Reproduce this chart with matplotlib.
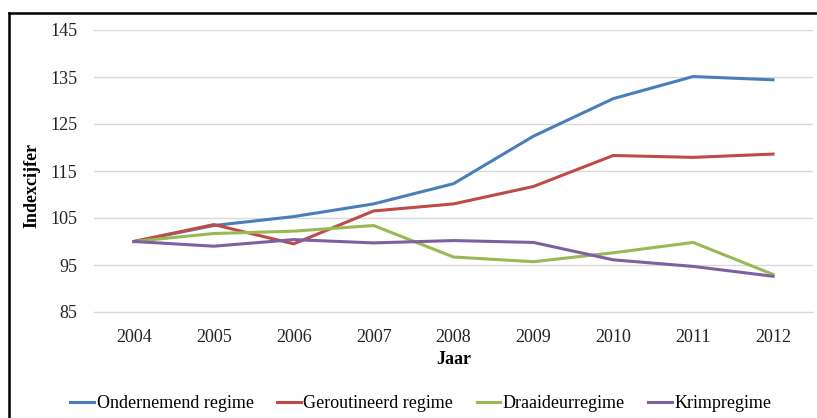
import matplotlib.pyplot as plt
from matplotlib.lines import Line2D

# data
jaren = ['2004', '2005', '2006', '2007', '2008', '2009', '2010', '2011', '2012']
ondernemend = [100, 103.4, 105.3, 108.0, 112.3, 122.4, 130.4, 135.1, 134.4]
geroutineerd = [100, 103.6, 99.5, 106.5, 108.0, 111.7, 118.3, 117.9, 118.6]
draaideur = [100, 101.7, 102.2, 103.4, 96.7, 95.7, 97.6, 99.8, 93.0]
krimp = [100, 99.0, 100.4, 99.7, 100.2, 99.8, 96.1, 94.7, 92.6]

series = [
    ('Ondernemend regime', ondernemend, '#4A7EBB'),
    ('Geroutineerd regime', geroutineerd, '#BE4B48'),
    ('Draaideurregime', draaideur, '#98B954'),
    ('Krimpregime', krimp, '#7D60A0'),
]

plt.rcParams['font.family'] = ['Liberation Serif', 'DejaVu Serif']

W, H = 817, 418
fig = plt.figure(figsize=(W / 100, H / 100), dpi=100)
ax = fig.add_axes([94 / W, 1 - 312 / H, (813 - 94) / W, (312 - 30) / H])

x = range(len(jaren))
for naam, vals, kleur in series:
    ax.plot(x, vals, color=kleur, lw=2.2, label=naam, solid_joinstyle='round')

ax.set_xlim(-0.5, len(jaren) - 0.5)
ax.set_ylim(85, 145)
ax.set_yticks(range(85, 146, 10))
ax.set_xticks(list(x))
ax.set_xticklabels(jaren)
ax.tick_params(length=0, labelsize=13, colors='#222222', pad=12)
ax.tick_params(axis='y', pad=12)
ax.grid(axis='y', color='#D9D9D9', lw=1)
ax.set_axisbelow(True)
for s in ['top', 'right', 'left']:
    ax.spines[s].set_visible(False)
ax.spines['bottom'].set_color('#D9D9D9')

ax.set_ylabel('Indexcijfer', fontsize=13, fontweight='bold')
ax.yaxis.set_label_coords((40 - 94) / (813 - 94), 0.45)
ax.set_xlabel('Jaar', fontsize=13, fontweight='bold', labelpad=4)

fig.legend(loc='center', bbox_to_anchor=(421 / W, 1 - 404 / H), ncol=4,
           frameon=False, fontsize=13, handlelength=1.3, handletextpad=0.15,
           columnspacing=1.3)

# black frame edge (left and top) as in the source
fig.add_artist(Line2D([9 / W, 9 / W], [0, 1 - 12.5 / H], color='black', lw=1.8,
                      transform=fig.transFigure))
fig.add_artist(Line2D([9 / W, 1], [1 - 12.5 / H, 1 - 12.5 / H], color='black', lw=1.8,
                      transform=fig.transFigure))

fig.savefig('out.png', dpi=100)
